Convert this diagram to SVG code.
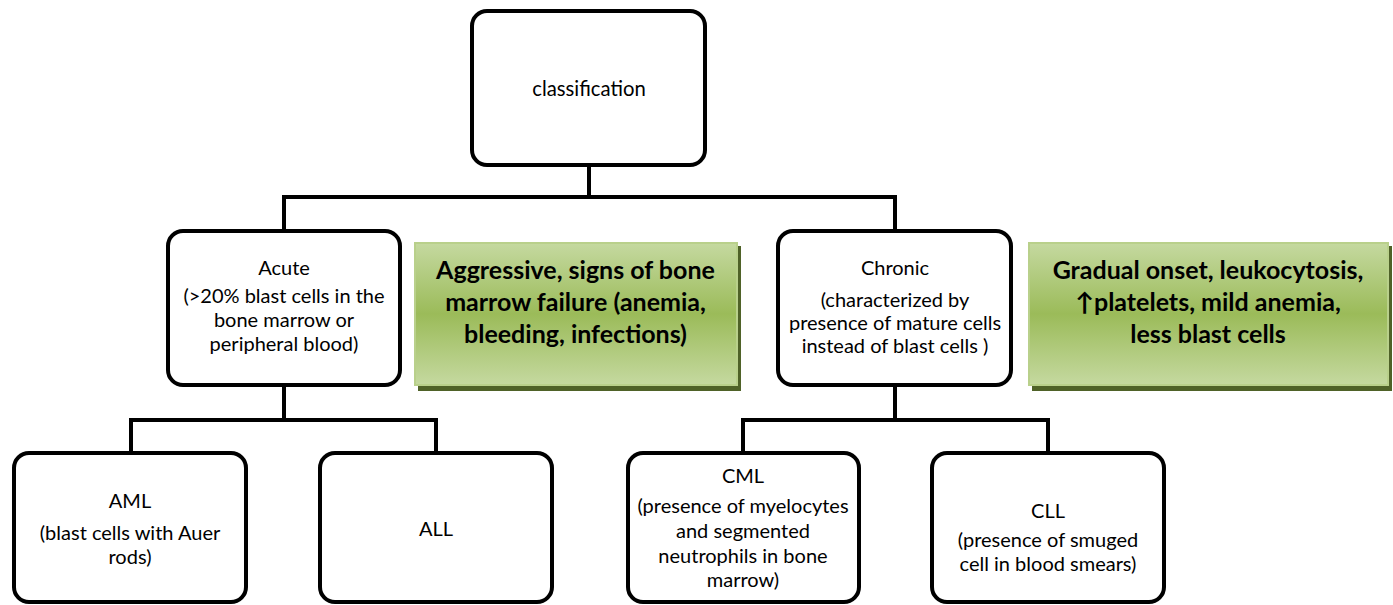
<svg xmlns="http://www.w3.org/2000/svg" width="1393" height="605" viewBox="0 0 1393 605">
  <defs>
    <linearGradient id="greenGrad" x1="0" y1="0" x2="0" y2="1">
      <stop offset="0" stop-color="#c5d9a0"/>
      <stop offset="0.5" stop-color="#9bbb59"/>
      <stop offset="1" stop-color="#c5d9a0"/>
    </linearGradient>
    <style>
      .box { fill: #ffffff; stroke: #000000; stroke-width: 4; }
      .conn { fill: none; stroke: #000000; stroke-width: 4; stroke-linejoin: miter; stroke-linecap: square; }
      .note { fill: url(#greenGrad); stroke: #b9d08b; stroke-width: 2; }
      .shadow { fill: #4f6228; }
      .t { font-family: Lato, "Liberation Sans", sans-serif; font-size: 20px; fill: #000; text-anchor: middle; }
      .tc { font-family: Lato, "Liberation Sans", sans-serif; font-size: 20.3px; fill: #000; text-anchor: middle; }
      .tb { font-family: Lato, "Liberation Sans", "DejaVu Sans", sans-serif; font-size: 25px; font-weight: bold; fill: #000; text-anchor: middle; }
    </style>
  </defs>

  <g id="connectors">
    <path class="conn" d="M589 167 V197 M284 197 H895 M284 197 V229 M895 197 V229"/>
    <path class="conn" d="M284 387 V420 M131 420 H436 M131 420 V451 M436 420 V451"/>
    <path class="conn" d="M895 387 V420 M743 420 H1048 M743 420 V451 M1048 420 V451"/>
  </g>

  <g id="node-classification">
    <rect class="box" x="472" y="11" width="233" height="154" rx="15"/>
    <text class="tc" x="589" y="96">classification</text>
  </g>

  <g id="node-acute">
    <rect class="box" x="168" y="231" width="232" height="154" rx="15"/>
    <text class="t" x="284" y="275">Acute</text>
    <text class="t" x="284" y="302.5">(&gt;20% blast cells in the</text>
    <text class="t" x="284" y="327">bone marrow or</text>
    <text class="t" x="284" y="350.5">peripheral blood)</text>
  </g>

  <g id="note-acute">
    <rect class="shadow" x="418" y="246" width="323" height="145"/>
    <rect class="note" x="415" y="243" width="322" height="142"/>
    <text class="tb" x="575.5" y="278.5">Aggressive, signs of bone</text>
    <text class="tb" x="575.5" y="310.5">marrow failure (anemia,</text>
    <text class="tb" x="575.5" y="342.5">bleeding, infections)</text>
  </g>

  <g id="node-chronic">
    <rect class="box" x="778" y="231" width="233" height="154" rx="15"/>
    <text class="t" x="895" y="274.5">Chronic</text>
    <text class="t" x="895" y="306.5">(characterized by</text>
    <text class="t" x="895" y="330">presence of mature cells</text>
    <text class="t" x="895" y="353">instead of blast cells )</text>
  </g>

  <g id="note-chronic">
    <rect class="shadow" x="1032" y="246" width="360" height="145"/>
    <rect class="note" x="1029" y="243" width="359" height="142"/>
    <text class="tb" x="1208" y="278.5">Gradual onset, leukocytosis,</text>
    <text class="tb" x="1208" y="310.5">↑platelets, mild anemia,</text>
    <text class="tb" x="1208" y="342.5">less blast cells</text>
  </g>

  <g id="node-aml">
    <rect class="box" x="14" y="453" width="232" height="149" rx="15"/>
    <text class="t" x="130" y="507.5">AML</text>
    <text class="t" x="130" y="540">(blast cells with Auer</text>
    <text class="t" x="130" y="564">rods)</text>
  </g>

  <g id="node-all">
    <rect class="box" x="320" y="453" width="232" height="149" rx="15"/>
    <text class="t" x="436" y="536">ALL</text>
  </g>

  <g id="node-cml">
    <rect class="box" x="628" y="453" width="231" height="149" rx="15"/>
    <text class="t" x="743" y="482.5">CML</text>
    <text class="t" x="743" y="513">(presence of myelocytes</text>
    <text class="t" x="743" y="538">and segmented</text>
    <text class="t" x="743" y="563">neutrophils in bone</text>
    <text class="t" x="743" y="587">marrow)</text>
  </g>

  <g id="node-cll">
    <rect class="box" x="932" y="453" width="232" height="149" rx="15"/>
    <text class="t" x="1048" y="518">CLL</text>
    <text class="t" x="1048" y="547">(presence of smuged</text>
    <text class="t" x="1048" y="570.5">cell in blood smears)</text>
  </g>
</svg>
